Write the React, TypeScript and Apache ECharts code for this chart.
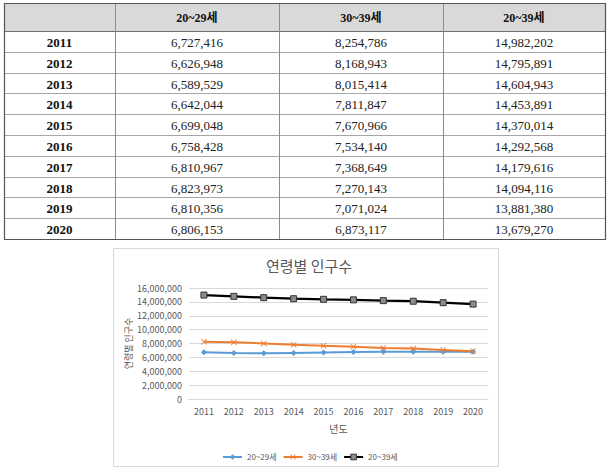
import React, { useEffect, useRef } from "react";
import * as echarts from "echarts";

const years = ["2011", "2012", "2013", "2014", "2015", "2016", "2017", "2018", "2019", "2020"];
const seriesNames = ["20~29세", "30~39세", "20~39세"];
const age2029 = [6727416, 6626948, 6589529, 6642044, 6699048, 6758428, 6810967, 6823973, 6810356, 6806153];
const age3039 = [8254786, 8168943, 8015414, 7811847, 7670966, 7534140, 7368649, 7270143, 7071024, 6873117];
const age2039 = [14982202, 14795891, 14604943, 14453891, 14370014, 14292568, 14179616, 14094116, 13881380, 13679270];
const chartTitle = "연령별 인구수";
const xAxisName = "년도";
const yAxisName = "연령별 인구수";

const fmt = (v: number) => v.toLocaleString("en-US");

const SERIF = "'Liberation Serif', 'Noto Sans CJK KR', serif";
const SANS = "'Noto Sans CJK KR', 'Noto Sans', sans-serif";

function buildTable(): any[] {
  const colX = [4, 115, 279, 443, 605];
  const top = 3;
  const headH = 28;
  const rowH = 20.8;
  const bottom = top + headH + rowH * years.length;
  const els: any[] = [];
  els.push({
    type: "rect",
    shape: { x: colX[0], y: top, width: colX[4] - colX[0], height: headH },
    style: { fill: "#d9d9d9" },
    silent: true,
  });
  for (let i = 1; i < years.length; i++) {
    const y = Math.round(top + headH + rowH * i) + 0.5;
    els.push({
      type: "line",
      shape: { x1: colX[0], y1: y, x2: colX[4], y2: y },
      style: { stroke: "#a6a6a6", lineWidth: 1 },
      silent: true,
    });
  }
  els.push({
    type: "line",
    shape: { x1: colX[0], y1: top + headH + 0.5, x2: colX[4], y2: top + headH + 0.5 },
    style: { stroke: "#6f6f6f", lineWidth: 1 },
    silent: true,
  });
  for (let c = 1; c < 4; c++) {
    els.push({
      type: "line",
      shape: { x1: colX[c] + 0.5, y1: top, x2: colX[c] + 0.5, y2: bottom },
      style: { stroke: "#8c8c8c", lineWidth: 1 },
      silent: true,
    });
  }
  els.push({
    type: "rect",
    shape: { x: colX[0] + 0.5, y: top + 0.5, width: colX[4] - colX[0], height: bottom - top },
    style: { fill: "none", stroke: "#555555", lineWidth: 1.2 },
    silent: true,
  });
  seriesNames.forEach((n, i) => {
    els.push({
      type: "text",
      style: {
        text: n,
        x: (colX[i + 1] + colX[i + 2]) / 2,
        y: top + headH / 2 + 1,
        align: "center",
        verticalAlign: "middle",
        font: `bold 12px ${SERIF}`,
        fill: "#111",
      },
      silent: true,
    });
  });
  const cols = [age2029, age3039, age2039];
  years.forEach((yr, r) => {
    const cy = top + headH + rowH * r + rowH / 2 + 1;
    els.push({
      type: "text",
      style: {
        text: yr,
        x: (colX[0] + colX[1]) / 2,
        y: cy,
        align: "center",
        verticalAlign: "middle",
        font: `bold 13px ${SERIF}`,
        fill: "#111",
      },
      silent: true,
    });
    cols.forEach((arr, c) => {
      els.push({
        type: "text",
        style: {
          text: fmt(arr[r]),
          x: (colX[c + 1] + colX[c + 2]) / 2,
          y: cy,
          align: "center",
          verticalAlign: "middle",
          font: `13px ${SERIF}`,
          fill: "#222",
        },
        silent: true,
      });
    });
  });
  els.push({
    type: "rect",
    shape: { x: 113.5, y: 248.5, width: 385, height: 218 },
    style: { fill: "#fff", stroke: "#d9d9d9", lineWidth: 1 },
    z: -10,
    silent: true,
  });
  return els;
}

export default function App() {
  const ref = useRef<HTMLDivElement>(null);
  useEffect(() => {
    if (!ref.current) return;
    const chart = echarts.init(ref.current, undefined, { renderer: "svg" });
    const xSymbol = "path://M0,1L1,0L5,4L9,0L10,1L6,5L10,9L9,10L5,6L1,10L0,9L4,5Z";
    chart.setOption({
      animation: false,
      backgroundColor: "#fff",
      title: {
        text: chartTitle,
        left: 304,
        top: 253,
        textAlign: "center",
        textStyle: { fontFamily: SANS, fontSize: 15, fontWeight: "normal", color: "#595959" },
      },
      graphic: buildTable(),
      legend: {
        left: 217,
        top: 448,
        itemWidth: 19,
        itemHeight: 7,
        itemGap: 6,
        itemStyle: { borderWidth: 1 },
        textStyle: { fontFamily: SANS, fontSize: 8, color: "#595959" },
        data: seriesNames,
      },
      grid: { left: 189, right: 127, top: 288, bottom: 74, containLabel: false },
      xAxis: {
        type: "category",
        data: years,
        boundaryGap: true,
        name: xAxisName,
        nameLocation: "middle",
        nameGap: 24,
        nameTextStyle: { fontFamily: SANS, fontSize: 10, color: "#595959" },
        axisLine: { lineStyle: { color: "#d9d9d9" } },
        axisTick: { show: false },
        axisLabel: { fontFamily: SANS, fontSize: 9, color: "#595959", margin: 8 },
      },
      yAxis: {
        type: "value",
        min: 0,
        max: 16000000,
        interval: 2000000,
        name: yAxisName,
        nameLocation: "middle",
        nameRotate: 90,
        nameGap: 24,
        nameTextStyle: { fontFamily: SANS, fontSize: 9, color: "#595959" },
        axisLine: { show: false },
        axisTick: { show: false },
        axisLabel: { fontFamily: SANS, fontSize: 9, color: "#595959", margin: 7, formatter: (v: number) => fmt(v) },
        splitLine: { lineStyle: { color: "#d9d9d9" } },
      },
      series: [
        {
          name: seriesNames[0],
          type: "line",
          data: age2029,
          symbol: "diamond",
          symbolSize: 6,
          lineStyle: { color: "#5b9bd5", width: 2 },
          itemStyle: { color: "#5b9bd5" },
        },
        {
          name: seriesNames[1],
          type: "line",
          data: age3039,
          symbol: xSymbol,
          symbolSize: 6,
          lineStyle: { color: "#ed7d31", width: 2 },
          itemStyle: { color: "#ed7d31" },
        },
        {
          name: seriesNames[2],
          type: "line",
          data: age2039,
          symbol: "rect",
          symbolSize: 6,
          lineStyle: { color: "#000000", width: 2.25 },
          itemStyle: { color: "#8c8c8c", borderColor: "#333", borderWidth: 1 },
        },
      ],
    });
    return () => chart.dispose();
  }, []);
  return (
    <div
      ref={ref}
      style={{ position: "fixed", left: 0, top: 0, width: 615, height: 473, background: "#fff" }}
    />
  );
}
